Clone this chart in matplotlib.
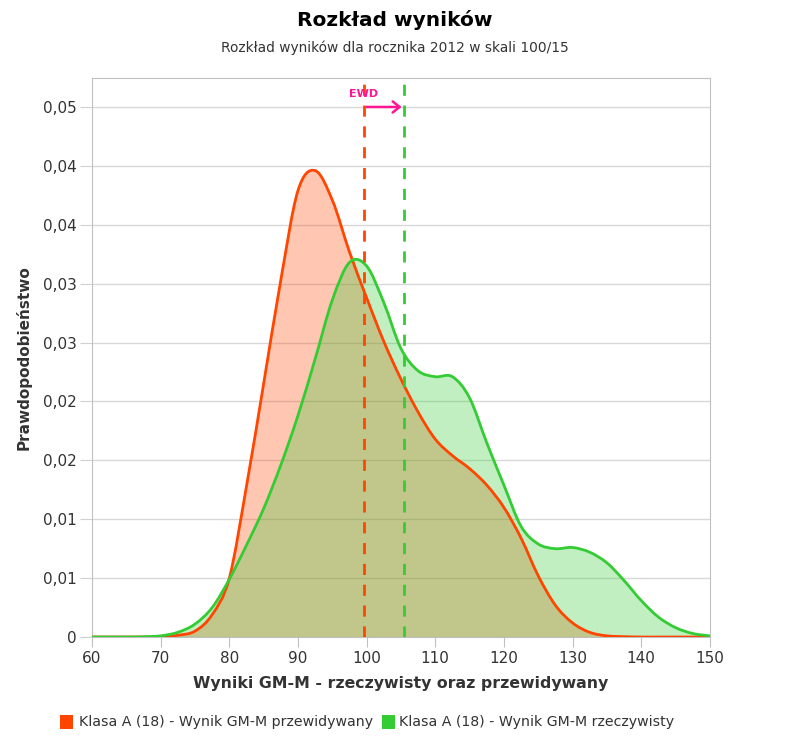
import matplotlib
matplotlib.use("Agg")
import matplotlib.pyplot as plt
from matplotlib.path import Path
from matplotlib.patches import PathPatch, FancyArrowPatch
from matplotlib.ticker import FixedLocator, FuncFormatter
import numpy as np

plt.rcParams["font.family"] = "DejaVu Sans"

# score grid and density estimates
scores = [60, 62.5, 65, 67.5, 70, 72.5, 75, 77.5, 80, 82.5, 85, 87.5, 90, 92.5, 95,
          97.5, 100, 102.5, 105, 107.5, 110, 112.5, 115, 117.5, 120, 122.5, 125,
          127.5, 130, 132.5, 135, 137.5, 140, 142.5, 145, 147.5, 150]
predicted = [0, 0, 0, 0, 0.00002, 0.00015, 0.0005, 0.0019, 0.0050, 0.0128, 0.0215,
             0.0303, 0.0379, 0.0396, 0.0371, 0.0327, 0.0288, 0.0251, 0.0219, 0.0191,
             0.0168, 0.0154, 0.0143, 0.0129, 0.0110, 0.0084, 0.0052, 0.0027, 0.0012,
             0.0004, 0.0001, 0.00003, 0, 0, 0, 0, 0]
actual = [0, 0, 0, 0.00002, 0.0001, 0.0004, 0.0011, 0.0025, 0.0049, 0.0078, 0.0109,
          0.0146, 0.0188, 0.0236, 0.0286, 0.0318, 0.0315, 0.0284, 0.0245, 0.0226,
          0.0221, 0.0221, 0.0203, 0.0165, 0.0129, 0.0094, 0.0079, 0.0075, 0.0076,
          0.0072, 0.0063, 0.0048, 0.0031, 0.0017, 0.0008, 0.0003, 0.0001]
mean_predicted = 99.6
mean_actual = 105.5
yticks = [0, 0.005, 0.01, 0.015, 0.02, 0.025, 0.03, 0.035, 0.04, 0.045]
xticks = [60, 70, 80, 90, 100, 110, 120, 130, 140, 150]

ORANGE = "#ff4500"
GREEN = "#33cc33"
PINK = "#ff1493"
INK = "#333333"


def spline(xs, ys, closed=False):
    # catmull-rom style bezier through the points (like a highcharts spline)
    p = np.column_stack([xs, ys]).astype(float)
    n = len(p)
    verts = [p[0]]
    codes = [Path.MOVETO]
    for i in range(n - 1):
        p0, p1, p2, p3 = p[max(i - 1, 0)], p[i], p[i + 1], p[min(i + 2, n - 1)]
        verts += [p1 + (p2 - p0) / 6, p2 - (p3 - p1) / 6, p2]
        codes += [Path.CURVE4] * 3
    if closed:
        verts += [(xs[-1], 0), (xs[0], 0), (xs[0], 0)]
        codes += [Path.LINETO, Path.LINETO, Path.CLOSEPOLY]
    return Path(verts, codes)


fig = plt.figure(figsize=(7.9, 7.52), dpi=100)
ax = fig.add_axes([0.1165, 0.1529, 0.782, 0.7434])

for ys, col in ((predicted, ORANGE), (actual, GREEN)):
    ax.add_patch(PathPatch(spline(scores, ys, closed=True), fc=col, ec="none", alpha=0.3, zorder=2))
for ys, col in ((predicted, ORANGE), (actual, GREEN)):
    ax.add_patch(PathPatch(spline(scores, ys), fc="none", ec=col, lw=2, zorder=4))

ax.axvline(mean_predicted, color=ORANGE, lw=2, ls=(0, (4, 3.5)), zorder=5)
ax.axvline(mean_actual, color=GREEN, lw=2, ls=(0, (4, 3.5)), zorder=5)
ax.add_patch(FancyArrowPatch((mean_predicted, 0.045), (mean_actual, 0.045), arrowstyle="->,head_length=5,head_width=4",
                             color=PINK, lw=1.8, mutation_scale=1, zorder=6))
ax.text(mean_predicted, 0.0461, "EWD", color=PINK, fontsize=8, fontweight="bold", ha="center", va="center", zorder=6)

ax.set_xlim(60, 150)
ax.set_ylim(0, 0.04746)
ax.yaxis.set_major_locator(FixedLocator(yticks))
ax.xaxis.set_major_locator(FixedLocator(xticks))
ax.yaxis.set_major_formatter(FuncFormatter(lambda v, p: "0" if v == 0 else f"{v + 1e-9:.2f}".replace(".", ",")))
ax.grid(axis="y", color="#d8d8d8", lw=1, zorder=0)
ax.set_axisbelow(True)
for s in ax.spines.values():
    s.set_color("#c0c0c0")
ax.tick_params(axis="y", length=9, color="#d0d0d0", labelsize=11, labelcolor=INK, pad=2)
ax.tick_params(axis="x", length=7, color="#c0c0c0", labelsize=11, labelcolor=INK, pad=3)

ax.set_xlabel("Wyniki GM-M - rzeczywisty oraz przewidywany", fontsize=11.3, fontweight="bold", color=INK, labelpad=7)
ax.set_ylabel("Prawdopodobieństwo", fontsize=11, fontweight="bold", color=INK, labelpad=8)

fig.text(0.5, 0.973, "Rozkład wyników", ha="center", va="center", fontsize=14.5, fontweight="bold", color="black")
fig.text(0.5, 0.936, "Rozkład wyników dla rocznika 2012 w skali 100/15", ha="center", va="center", fontsize=9.9, color=INK)

# legend
fig.patches.append(plt.Rectangle((60 / 790, 1 - 729 / 752), 13 / 790, 14 / 752, transform=fig.transFigure, fc=ORANGE, ec="none"))
fig.text(79 / 790, 1 - 722 / 752, "Klasa A (18) - Wynik GM-M przewidywany", fontsize=10.2, color=INK, va="center")
fig.patches.append(plt.Rectangle((382 / 790, 1 - 729 / 752), 13 / 790, 14 / 752, transform=fig.transFigure, fc=GREEN, ec="none"))
fig.text(399 / 790, 1 - 722 / 752, "Klasa A (18) - Wynik GM-M rzeczywisty", fontsize=10.2, color=INK, va="center")

fig.savefig("out.png", dpi=100, facecolor="white")
